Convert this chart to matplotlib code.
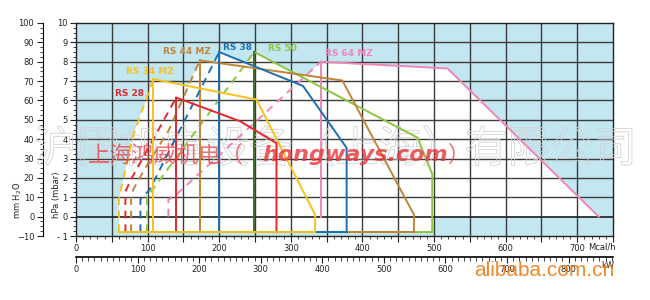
import matplotlib
matplotlib.use("Agg")
import matplotlib.pyplot as plt
import matplotlib.patheffects as pe
from matplotlib.patches import Polygon
from matplotlib.ticker import MultipleLocator, FixedLocator, FuncFormatter

# ---------------- data (Mcal/h , hPa) ----------------
burners = ["RS 28", "RS 34 MZ", "RS 44 MZ", "RS 38", "RS 50", "RS 64 MZ"]

rs28_dash_x = [69, 69, 78, 140]
rs28_dash_y = [-0.8, 1.3, 2.0, 6.15]
rs28_max_x = [140, 229, 280, 280]
rs28_max_y = [6.15, 4.93, 3.8, -0.8]

rs34_dash_x = [60, 60, 64, 80, 108]
rs34_dash_y = [-0.8, 1.0, 1.6, 4.2, 7.1]
rs34_max_x = [108, 252, 334, 334]
rs34_max_y = [7.1, 6.05, 0.1, -0.8]

rs44_dash_x = [77, 77, 80, 95, 130, 173]
rs44_dash_y = [-0.8, 0.9, 1.4, 2.4, 4.5, 8.07]
rs44_max_x = [173, 372, 472, 472]
rs44_max_y = [8.07, 7.03, 0.1, -0.8]

rs38_dash_x = [90, 90, 103, 200]
rs38_dash_y = [-0.8, 0.9, 1.4, 8.5]
rs38_max_x = [200, 317, 378, 378]
rs38_max_y = [8.5, 6.75, 3.55, -0.8]

rs50_dash_x = [99, 99, 101, 249]
rs50_dash_y = [-0.8, 0.9, 1.1, 8.5]
rs50_max_x = [249, 477, 497.5, 497.5]
rs50_max_y = [8.5, 4.08, 2.2, -0.8]

rs64_dash_x = [129, 129, 136, 342]
rs64_dash_y = [0.0, 0.9, 1.0, 8.0]
rs64_max_x = [342, 519, 730]
rs64_max_y = [8.0, 7.65, 0.0]

bottoms = [-0.8, -0.8, -0.8, -0.8, -0.8, 0.0]

x_ticks = [0, 100, 200, 300, 400, 500, 600, 700]
kw_ticks = [0, 100, 200, 300, 400, 500, 600, 700, 800]
hpa_ticks = [-1, 0, 1, 2, 3, 4, 5, 6, 7, 8, 9, 10]
mm_ticks = [-10, 0, 10, 20, 30, 40, 50, 60, 70, 80, 90, 100]
KW_PER_MCAL = 1 / 0.86
MM_PER_HPA = 10

# ---------------- styling ----------------
colors = ["#e5262e", "#f6c21c", "#c08538", "#1c70b2", "#8cc63f", "#ef86b8"]
min_colors = ["#e5262e", "#f6c21c", "#c08538", "#1c70b2", "#3f6e2a", "#ef86b8"]
label_pos = [(75, 6.34), (103, 7.5), (155, 8.54), (226, 8.74), (288, 8.68), (381, 8.42)]

dash_xs = [rs28_dash_x, rs34_dash_x, rs44_dash_x, rs38_dash_x, rs50_dash_x, rs64_dash_x]
dash_ys = [rs28_dash_y, rs34_dash_y, rs44_dash_y, rs38_dash_y, rs50_dash_y, rs64_dash_y]
max_xs = [rs28_max_x, rs34_max_x, rs44_max_x, rs38_max_x, rs50_max_x, rs64_max_x]
max_ys = [rs28_max_y, rs34_max_y, rs44_max_y, rs38_max_y, rs50_max_y, rs64_max_y]

fig = plt.figure(figsize=(6.5, 3.0), dpi=100)
fig.patch.set_facecolor("white")
ax = fig.add_axes([76 / 650, 1 - 236 / 300, (613 - 76) / 650, (236 - 23) / 300])
ax.set_xlim(0, 750)
ax.set_ylim(-1, 10)
ax.set_facecolor("#c3e7f1")

# white operating fields
for i in range(len(burners)):
    pts = list(zip(dash_xs[i], dash_ys[i])) + list(zip(max_xs[i][1:], max_ys[i][1:]))
    ax.add_patch(Polygon(pts, closed=True, facecolor="white", edgecolor="none", zorder=1))

# grid
for gx in range(50, 750, 50):
    ax.axvline(gx, color="#3c3c3c", lw=1.0, zorder=2)
for gy in range(0, 10):
    ax.axhline(gy, color="#1e1e1e" if gy == 0 else "#3c3c3c", lw=1.2 if gy == 0 else 1.0, zorder=2)

# curves (draw order so that bottom line colours match)
order = [5, 4, 2, 3, 0, 1]
for i in order:
    c = colors[i]
    ax.plot(dash_xs[i], dash_ys[i], color=c, lw=1.4, ls=(0, (4, 3)), zorder=4)
    ax.plot(max_xs[i], max_ys[i], color=c, lw=1.4, zorder=4, solid_joinstyle="miter")
    ax.plot([max_xs[i][0], max_xs[i][0]], [bottoms[i], max_ys[i][0]], color=min_colors[i], lw=1.4, zorder=4)
    if bottoms[i] < 0:
        ax.plot([dash_xs[i][0], max_xs[i][-1]], [bottoms[i], bottoms[i]], color=c, lw=1.4, zorder=4)
    lx, ly = label_pos[i]
    ax.text(lx, ly, burners[i], color=c, fontsize=6.5, fontweight="bold", ha="center", va="center",
            zorder=6, family="DejaVu Sans")

# spines / ticks
for s in ax.spines.values():
    s.set_color("#222222")
    s.set_linewidth(1.0)
ax.xaxis.set_major_locator(MultipleLocator(50))
ax.xaxis.set_minor_locator(MultipleLocator(10))
ax.xaxis.set_major_formatter(FuncFormatter(lambda v, p: f"{int(v)}" if int(v) in x_ticks else ""))
ax.yaxis.set_major_locator(FixedLocator(hpa_ticks))
ax.yaxis.set_minor_locator(MultipleLocator(0.25))
ax.tick_params(axis="both", which="major", direction="out", length=4, width=0.8, labelsize=6,
               colors="#222222", pad=2)
ax.tick_params(axis="both", which="minor", direction="out", length=2, width=0.6, colors="#222222")
ax.set_yticklabels([("- 1" if t == -1 else str(t)) for t in hpa_ticks])

# secondary kW axis
secx = ax.secondary_xaxis("bottom", functions=(lambda m: m * KW_PER_MCAL, lambda k: k / KW_PER_MCAL))
secx.spines["bottom"].set_position(("outward", 15))
secx.set_xticks(kw_ticks)
secx.xaxis.set_minor_locator(MultipleLocator(10))
secx.tick_params(axis="x", which="major", length=4, width=0.8, labelsize=6, colors="#222222", pad=2)
secx.tick_params(axis="x", which="minor", length=3, width=0.6, colors="#222222")
secx.spines["bottom"].set_linewidth(1.2)

# secondary mm H2O axis
secy = ax.secondary_yaxis("left", functions=(lambda h: h * MM_PER_HPA, lambda m: m / MM_PER_HPA))
secy.spines["left"].set_position(("outward", 24))
secy.set_yticks(mm_ticks)
secy.yaxis.set_minor_locator(MultipleLocator(2.5))
secy.tick_params(axis="y", which="major", length=4, width=0.8, labelsize=6, colors="#222222", pad=2)
secy.tick_params(axis="y", which="minor", length=2, width=0.6, colors="#222222")

fig.text(57 / 650, 1 - 195 / 300, "hPa (mbar)", rotation=90, ha="center", va="center", fontsize=6, color="#222222")
fig.text(18 / 650, 1 - 200 / 300, "mm H$_2$O", rotation=90, ha="center", va="center", fontsize=6, color="#222222")
fig.text(602 / 650, 1 - 247 / 300, "Mcal/h", ha="center", va="center", fontsize=6, color="#222222")
fig.text(608 / 650, 1 - 265 / 300, "kW", ha="center", va="center", fontsize=6, color="#222222")

# watermarks
cjk = ["Noto Sans CJK SC", "DejaVu Sans"]
ax.text(335 / 650, 1 - 150 / 300, "沪固机电设备（上海）有限公司", ha="center", va="center", fontsize=31,
        color=(1, 1, 1, 0), family=cjk, zorder=3, transform=fig.transFigure, clip_on=False,
        path_effects=[pe.withStroke(linewidth=0.6, foreground="#d2d2d2")])
fig.text(88 / 650, 1 - 155 / 300, "上海鸿威机电（", ha="left", va="center", fontsize=16,
         color="#e8343a", alpha=0.7, style="italic", family=cjk, zorder=10)
fig.text(262 / 650, 1 - 155 / 300, "hongways.com", ha="left", va="center", fontsize=16,
         color="#e8343a", alpha=0.8, style="italic", fontweight="bold", family="DejaVu Sans", zorder=10)
fig.text(448 / 650, 1 - 155 / 300, "）", ha="left", va="center", fontsize=16,
         color="#e8343a", alpha=0.7, family=cjk, zorder=10)
fig.text(544 / 650, 1 - 270 / 300, "alibaba.com.cn", ha="center", va="center", fontsize=15,
         color="#f07b12", alpha=0.9, family="Liberation Sans", zorder=10)

fig.savefig("out.png", dpi=100)
